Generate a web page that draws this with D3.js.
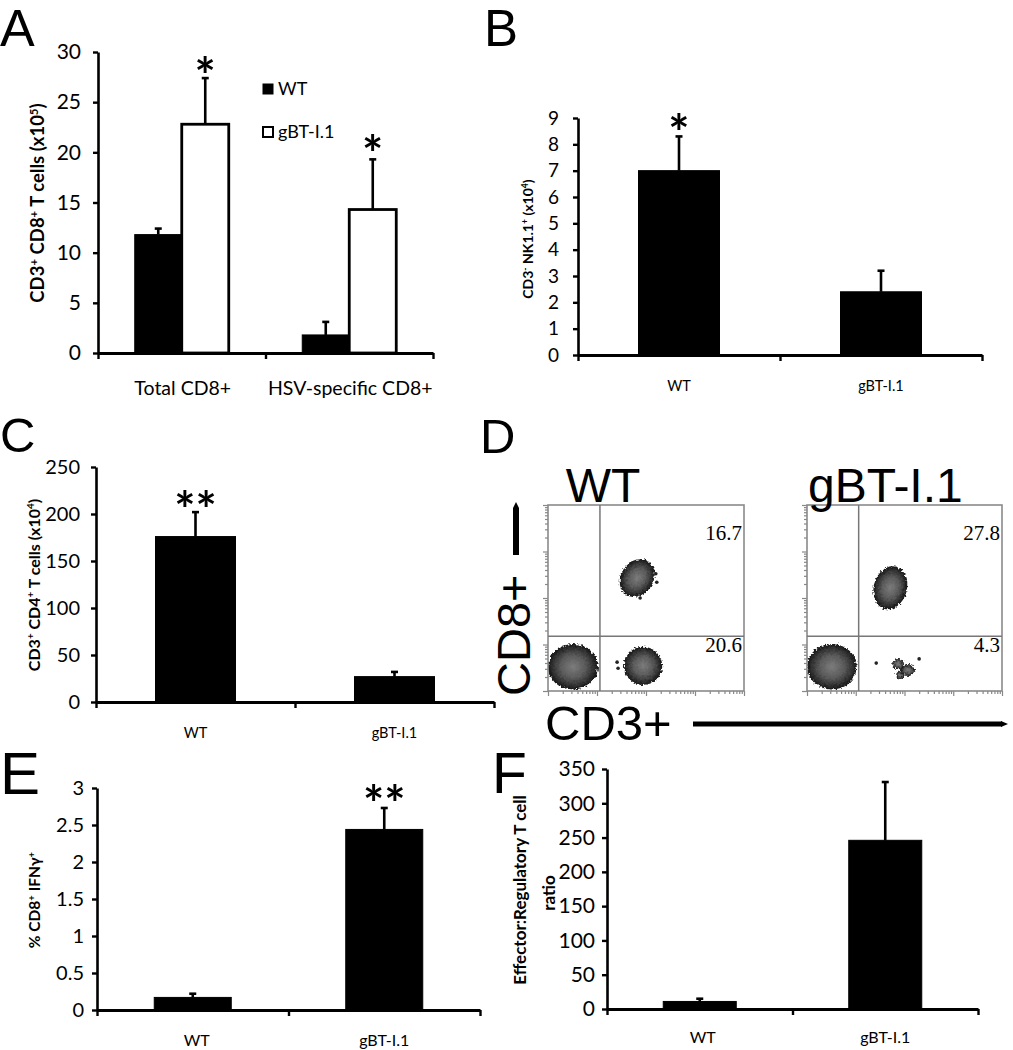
<!DOCTYPE html>
<html><head><meta charset="utf-8">
<script src="https://cdn.jsdelivr.net/npm/d3@7"></script>
<style>body{margin:0;background:#fff} svg{display:block}</style>
</head><body><svg id="fig" width="1013" height="1050"></svg>
<script>
// ---------------- DATA ----------------
// Panel A (grouped)
const groupsA = ["Total CD8+", "HSV-specific CD8+"];
const seriesA = ["WT", "gBT-I.1"];
const meanA_WT = [11.8, 1.8];
const errA_WT = [0.6, 1.3];
const meanA_gBT = [22.8, 14.3];
const errA_gBT = [4.6, 5.0];
const starsA_WT = ["", ""];
const starsA_gBT = ["*", "*"];
const ticksA = [0, 5, 10, 15, 20, 25, 30];

// Panels B, C, E, F
const cats = ["WT", "gBT-I.1"];
const meanB = [7.0, 2.4];
const errB = [1.3, 0.8];
const starsB = ["*", ""];
const ticksB = [0, 1, 2, 3, 4, 5, 6, 7, 8, 9];

const meanC = [176, 27];
const errC = [26, 5];
const starsC = ["**", ""];
const ticksC = [0, 50, 100, 150, 200, 250];

const meanE = [0.17, 2.44];
const errE = [0.05, 0.29];
const starsE = ["", "**"];
const ticksE = [0, 0.5, 1, 1.5, 2, 2.5, 3];

const meanF = [11, 246];
const errF = [4, 85];
const starsF = ["", ""];
const ticksF = [0, 50, 100, 150, 200, 250, 300, 350];

// Panel D (flow cytometry), log10 fluorescence coordinates of populations
const flowSamples = ["WT", "gBT-I.1"];
const quadUR = ["16.7", "27.8"];
const quadLR = ["20.6", "4.3"];
const gateCD3 = [1.06, 1.06];   // log10
const gateCD8 = [1.18, 1.18];   // log10
// populations: log10 CD3, log10 CD8, spread (decades) x/y, rotation
const popsWT = [
  {x: 0.51, y: 0.52, sx: 0.51, sy: 0.49, rot: 0},
  {x: 1.94, y: 0.54, sx: 0.39, sy: 0.41, rot: 0},
  {x: 1.82, y: 2.43, sx: 0.33, sy: 0.43, rot: 35}
];
const eventsWT = [
  {x: 1.41, y: 0.62}, {x: 1.43, y: 0.49}, {x: 2.20, y: 2.52},
  {x: 2.22, y: 2.34}, {x: 1.88, y: 2.00}
];
const popsGBT = [
  {x: 0.51, y: 0.52, sx: 0.51, sy: 0.49, rot: 0},
  {x: 1.71, y: 2.22, sx: 0.34, sy: 0.47, rot: 15},
  {x: 1.87, y: 0.58, sx: 0.12, sy: 0.11, rot: 0},
  {x: 2.07, y: 0.45, sx: 0.15, sy: 0.13, rot: 0},
  {x: 1.91, y: 0.34, sx: 0.08, sy: 0.08, rot: 0}
];
const eventsGBT = [{x: 1.42, y: 0.60}, {x: 2.30, y: 0.69}];

// ---------------- DRAWING ----------------
const svg = d3.select("#fig");
const FONT = "Lato, 'Open Sans', sans-serif";
const ARIAL = "'Liberation Sans', Arial, sans-serif";

const defs = svg.append("defs");
const rg = defs.append("radialGradient").attr("id", "blob");
[[0, "#7c7c7c"], [0.5, "#5a5a5a"], [0.8, "#333"], [1, "#161616"]].forEach(s =>
  rg.append("stop").attr("offset", s[0]).attr("stop-color", s[1]));
const filt = defs.append("filter").attr("id", "rough").attr("x", "-20%").attr("y", "-20%").attr("width", "140%").attr("height", "140%");
filt.append("feTurbulence").attr("type", "fractalNoise").attr("baseFrequency", 0.45).attr("numOctaves", 2).attr("seed", 4).attr("result", "n");
filt.append("feDisplacementMap").attr("in", "SourceGraphic").attr("in2", "n").attr("scale", 5).attr("xChannelSelector", "R").attr("yChannelSelector", "G");

function letter(t, x, y, size) {
  svg.append("text").attr("x", x).attr("y", y).attr("font-family", ARIAL)
    .attr("font-size", size).attr("fill", "#000").text(t);
}

function richLabel(parent, parts, x, y, size, rotate) {
  const t = parent.append("text")
    .attr("transform", `translate(${x},${y})` + (rotate ? " rotate(-90)" : ""))
    .attr("text-anchor", "middle").attr("font-family", FONT)
    .attr("font-weight", "bold").attr("font-size", size).attr("fill", "#000");
  parts.forEach(p => {
    if (Array.isArray(p)) {
      t.append("tspan").attr("baseline-shift", "super").attr("font-size", size * 0.62).text(p[0]);
    } else t.append("tspan").text(p);
  });
  return t;
}

function yAxis(g, y, x0, ticks, size, pad, fmt) {
  const ax = g.append("g").attr("transform", `translate(${x0},0)`)
    .call(d3.axisLeft(y).tickValues(ticks).tickSize(5).tickSizeOuter(0).tickPadding(pad).tickFormat(fmt || (d => d)));
  ax.select(".domain").attr("stroke", "#000").attr("stroke-width", 2.6);
  ax.selectAll(".tick line").attr("stroke", "#000").attr("stroke-width", 2.4);
  ax.selectAll(".tick text").attr("font-family", FONT).attr("font-size", size).attr("fill", "#000");
}

function xAxis(g, x0, x1, yb, n) {
  const s = d3.scaleLinear().domain([0, n]).range([x0, x1]);
  const ax = g.append("g").attr("transform", `translate(0,${yb})`)
    .call(d3.axisBottom(s).tickValues(d3.range(n + 1)).tickSize(6).tickSizeOuter(0).tickFormat(""));
  ax.select(".domain").attr("stroke", "#000").attr("stroke-width", 2.8);
  ax.selectAll(".tick line").attr("stroke", "#000").attr("stroke-width", 2.4);
}

function errBars(g, xs, tops, bases) {
  xs.forEach((cx, i) => {
    g.append("line").attr("x1", cx).attr("x2", cx).attr("y1", bases[i]).attr("y2", tops[i])
      .attr("stroke", "#000").attr("stroke-width", 2.6);
    g.append("line").attr("x1", cx - 3.5).attr("x2", cx + 3.5).attr("y1", tops[i]).attr("y2", tops[i])
      .attr("stroke", "#000").attr("stroke-width", 2.6);
  });
}

// star centred at `center` (y)
function starText(g, cx, center, s, size) {
  if (!s) return;
  g.append("text").attr("x", cx).attr("y", center + size * 0.6).attr("text-anchor", "middle")
    .attr("font-family", FONT).attr("font-weight", "bold").attr("font-size", size)
    .attr("fill", "#000").text(s);
}

// Generic single-series panel
function simplePanel(o) {
  const g = svg.append("g");
  const y = d3.scaleLinear().domain([0, o.max]).range([o.yb, o.yt]);
  const x = d3.scaleBand().domain(cats).range([o.x0, o.x1]).padding(0);
  const bw = o.bw;
  const centers = cats.map(c => x(c) + x.bandwidth() / 2);
  g.selectAll("rect.bar").data(o.means).join("rect")
    .attr("x", (d, i) => centers[i] - bw / 2).attr("width", bw)
    .attr("y", d => y(d)).attr("height", d => y(0) - y(d))
    .attr("fill", "#000").attr("stroke", "#000").attr("stroke-width", 1);
  errBars(g, centers, o.means.map((m, i) => y(m + o.errs[i])), o.means.map(m => y(m)));
  xAxis(g, o.x0, o.x1, y(0), 2);
  yAxis(g, y, o.x0, o.ticks, o.tickSize, o.tickPad, o.fmt);
  o.stars.forEach((s, i) => starText(g, centers[i], y(o.means[i] + o.errs[i]) - o.starGap, s, o.starSize));
  cats.forEach((c, i) => g.append("text").attr("x", centers[i] + (o.catDx ? o.catDx[i] : 0)).attr("y", o.catY)
    .attr("text-anchor", "middle").attr("font-family", FONT).attr("font-size", o.catSize).attr("fill", "#000").text(c));
  return g;
}

// ---- Panel A ----
(function () {
  const g = svg.append("g");
  const x0 = 98, x1 = 433, yb = 353, yt = 52;
  const y = d3.scaleLinear().domain([0, 30]).range([yb, yt]);
  const xg = d3.scaleBand().domain(groupsA).range([x0, x1]).padding(0);
  const bw = 47;
  const xs = d3.scaleBand().domain(seriesA).range([-bw, bw]).padding(0);
  const means = [meanA_WT, meanA_gBT], errs = [errA_WT, errA_gBT], stars = [starsA_WT, starsA_gBT];
  groupsA.forEach((grp, gi) => {
    const c = xg(grp) + xg.bandwidth() / 2;
    seriesA.forEach((s, si) => {
      const m = means[si][gi];
      const bx = c + xs(s);
      g.append("rect").attr("x", bx).attr("width", xs.bandwidth()).attr("y", y(m)).attr("height", y(0) - y(m))
        .attr("fill", si === 0 ? "#000" : "#fff").attr("stroke", "#000").attr("stroke-width", si === 0 ? 1 : 2.8);
      const cx = bx + xs.bandwidth() / 2;
      errBars(g, [cx], [y(m + errs[si][gi])], [y(m)]);
      starText(g, cx, y(m + errs[si][gi]) - (gi === 0 ? 14 : 17), stars[si][gi], 50);
    });
    g.append("text").attr("x", c + 1).attr("y", 395).attr("text-anchor", "middle")
      .attr("font-family", FONT).attr("font-size", 19.5).attr("fill", "#000").text(grp);
  });
  xAxis(g, x0, x1, yb, 2);
  yAxis(g, y, x0, ticksA, 21, 12);
  // legend
  seriesA.forEach((s, i) => {
    const ly = 84 + i * 43;
    g.append("rect").attr("x", 263).attr("y", ly).attr("width", 10).attr("height", 10)
      .attr("fill", i === 0 ? "#000" : "#fff").attr("stroke", "#000").attr("stroke-width", i === 0 ? 1 : 2);
    g.append("text").attr("x", 278).attr("y", ly + 11).attr("font-family", FONT).attr("font-size", 18)
      .attr("fill", "#000").text(s);
  });
  richLabel(g, ["CD3", ["+"], " CD8", ["+"], " T cells (x10", ["5"], ")"], 44, 203, 18.5, true);
})();

// ---- Panel B ----
(function () {
  const g = simplePanel({x0: 578, x1: 982, yb: 355, yt: 118, max: 9, ticks: ticksB, means: meanB, errs: errB,
    stars: starsB, bw: 81, tickSize: 19, tickPad: 14, starGap: 15, starSize: 50, catY: 391, catSize: 14.5});
  richLabel(g, ["CD3", ["-"], " NK1.1", ["+"], " (x10", ["4"], ")"], 533, 239, 14, true);
})();

// ---- Panel C ----
(function () {
  const g = simplePanel({x0: 96, x1: 494, yb: 702, yt: 467, max: 250, ticks: ticksC, means: meanC, errs: errC,
    stars: starsC, bw: 80, tickSize: 20, tickPad: 11, starGap: 14, starSize: 50, catY: 738, catSize: 14.5});
  richLabel(g, ["CD3", ["+"], " CD4", ["+"], " T cells (x10", ["4"], ")"], 40, 585, 16, true);
})();

// ---- Panel E ----
(function () {
  const g = simplePanel({x0: 97, x1: 480, yb: 1010, yt: 788, max: 3, ticks: ticksE, means: meanE, errs: errE,
    stars: starsE, bw: 77, tickSize: 20, tickPad: 8, starGap: 16, starSize: 50, catY: 1046, catSize: 16,
    catDx: [4, 0]});
  richLabel(g, ["% CD8", ["+"], " IFNγ", ["+"]], 40, 900, 15.5, true);
})();

// ---- Panel F ----
(function () {
  const g = simplePanel({x0: 607, x1: 978, yb: 1009, yt: 769, max: 350, ticks: ticksF, means: meanF, errs: errF,
    stars: starsF, bw: 73, tickSize: 21, tickPad: 7, starGap: 12, starSize: 50, catY: 1043, catSize: 16,
    catDx: [3, 0]});
  richLabel(g, ["Effector:Regulatory T cell"], 526, 890, 17, true);
  richLabel(g, ["ratio"], 555, 893, 17, true);
})();

// ---- Panel D (flow plots) ----
(function () {
  const boxes = [{x0: 548, x1: 744}, {x0: 807, x1: 1002}];
  const yb = 691, yt = 505;
  const pops = [popsWT, popsGBT], evs = [eventsWT, eventsGBT];
  const minor = [];
  [1, 10, 100, 1000].forEach(d => d3.range(1, 10).forEach(k => minor.push(d * k)));
  minor.push(10000);
  flowSamples.forEach((name, i) => {
    const b = boxes[i];
    const g = svg.append("g");
    const x = d3.scaleLog().domain([1, 1e4]).range([b.x0, b.x1]);
    const y = d3.scaleLog().domain([1, 1e4]).range([yb, yt]);
    const L = v => Math.pow(10, v);
    const pg = g.append("g").attr("filter", "url(#rough)");
    pops[i].forEach(p => {
      const cx = x(L(p.x)), cy = y(L(p.y));
      const rx = x(L(p.x + p.sx)) - cx, ry = cy - y(L(p.y + p.sy));
      pg.append("ellipse").attr("cx", cx).attr("cy", cy).attr("rx", rx).attr("ry", ry)
        .attr("transform", `rotate(${p.rot},${cx},${cy})`).attr("fill", "url(#blob)");
    });
    evs[i].forEach(p => g.append("circle").attr("cx", x(L(p.x))).attr("cy", y(L(p.y))).attr("r", 1.8).attr("fill", "#222"));
    g.append("rect").attr("x", b.x0 - 14).attr("y", yt).attr("width", 14).attr("height", yb - yt + 14).attr("fill", "#fff");
    g.append("rect").attr("x", b.x0 - 14).attr("y", yb).attr("width", b.x1 - b.x0 + 28).attr("height", 12).attr("fill", "#fff");
    g.append("rect").attr("x", b.x0).attr("y", yt).attr("width", b.x1 - b.x0).attr("height", yb - yt)
      .attr("fill", "none").attr("stroke", "#8a8a8a").attr("stroke-width", 1.6);
    g.append("line").attr("x1", x(L(gateCD3[i]))).attr("x2", x(L(gateCD3[i]))).attr("y1", yt).attr("y2", yb)
      .attr("stroke", "#777").attr("stroke-width", 1.5);
    g.append("line").attr("x1", b.x0).attr("x2", b.x1).attr("y1", y(L(gateCD8[i]))).attr("y2", y(L(gateCD8[i])))
      .attr("stroke", "#777").attr("stroke-width", 1.5);
    const isMajor = v => Math.abs(Math.log10(v) - Math.round(Math.log10(v))) < 1e-9;
    const ay = g.append("g").attr("transform", `translate(${b.x0},0)`)
      .call(d3.axisLeft(y).tickValues(minor).tickSize(3).tickFormat(""));
    ay.select(".domain").remove();
    ay.selectAll(".tick line").attr("stroke", "#888").attr("stroke-width", 1.2)
      .attr("x2", d => isMajor(d) ? -5 : -3);
    const ax = g.append("g").attr("transform", `translate(0,${yb})`)
      .call(d3.axisBottom(x).tickValues(minor).tickSize(3).tickFormat(""));
    ax.select(".domain").remove();
    ax.selectAll(".tick line").attr("stroke", "#888").attr("stroke-width", 1.2)
      .attr("y2", d => isMajor(d) ? 5 : 3);
    g.append("text").attr("x", b.x1 - 2).attr("y", 540).attr("text-anchor", "end")
      .attr("font-family", "'Liberation Serif', 'Times New Roman', serif").attr("font-size", 21).text(quadUR[i]);
    g.append("text").attr("x", b.x1 - 2).attr("y", 652).attr("text-anchor", "end")
      .attr("font-family", "'Liberation Serif', 'Times New Roman', serif").attr("font-size", 21).text(quadLR[i]);
  });
  svg.append("text").attr("x", 603).attr("y", 502).attr("text-anchor", "middle").attr("font-family", ARIAL)
    .attr("font-size", 48).text(flowSamples[0]);
  svg.append("text").attr("x", 808).attr("y", 502).attr("font-family", ARIAL)
    .attr("font-size", 48).text(flowSamples[1]);
  svg.append("text").attr("transform", "translate(530,696) rotate(-90)").attr("font-family", ARIAL)
    .attr("font-size", 47).text("CD8+");
  svg.append("line").attr("x1", 516).attr("x2", 516).attr("y1", 555).attr("y2", 508)
    .attr("stroke", "#000").attr("stroke-width", 6);
  svg.append("path").attr("d", "M513,508 L516,502 L519,508 Z").attr("fill", "#000");
  svg.append("text").attr("x", 545).attr("y", 740).attr("font-family", ARIAL)
    .attr("font-size", 49).text("CD3+");
  svg.append("line").attr("x1", 693).attr("x2", 1002).attr("y1", 724).attr("y2", 724)
    .attr("stroke", "#000").attr("stroke-width", 5);
  svg.append("path").attr("d", "M1001,721 L1008,724 L1001,727 Z").attr("fill", "#000");
})();

// panel letters
letter("A", 0, 46, 52);
letter("B", 484, 46, 51);
letter("C", 0, 452, 49);
letter("D", 480, 453, 49);
letter("E", 0, 794, 60);
letter("F", 492, 793, 57);
</script></body></html>
